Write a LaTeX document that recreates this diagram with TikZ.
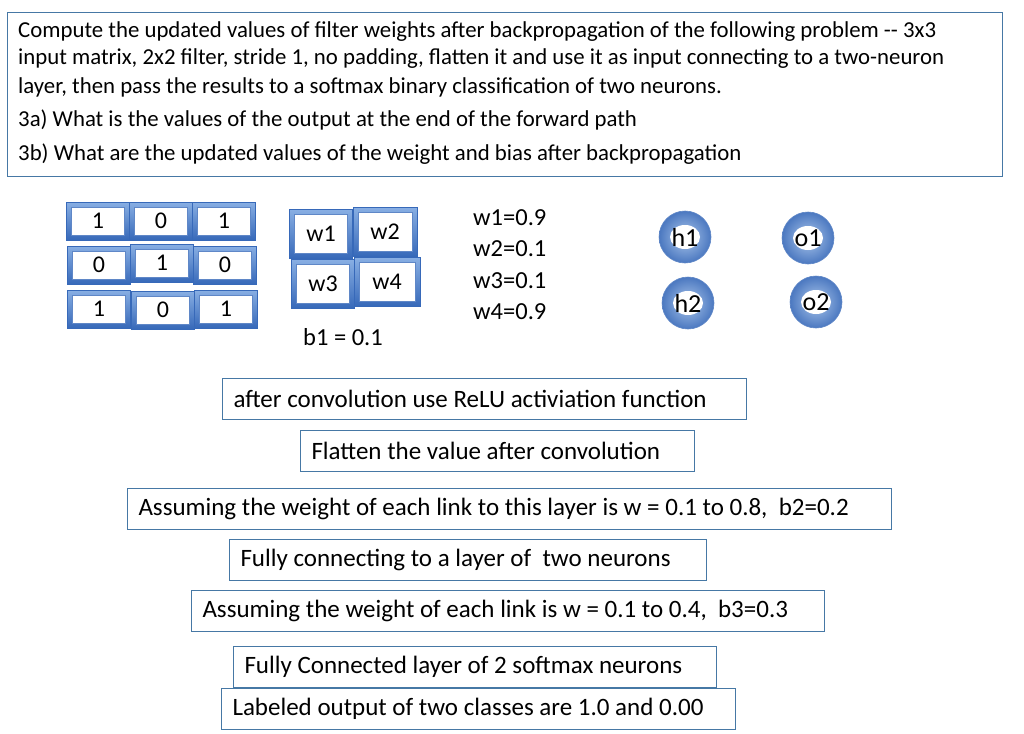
\documentclass[tikz,border=0pt]{standalone}
\usepackage{fontspec}
\setmainfont{Carlito}
\definecolor{bx}{RGB}{70,120,165}
\definecolor{cb}{RGB}{85,140,215}
\definecolor{cd}{RGB}{55,105,185}
\newcommand{\bxt}[2]{\makebox[#1][l]{#2}}
\begin{document}
\begin{tikzpicture}[x=1pt,y=-1pt,
  tb/.style={draw=bx,line width=1pt,minimum height=41pt,font=\fontsize{25}{26}\selectfont,anchor=west,inner xsep=11pt,inner ysep=0pt},
  cell/.style={draw=cd,line width=1pt,top color=cb!70,bottom color=cd,minimum width=63pt,minimum height=38pt,inner sep=0pt,
     path picture={\fill[white,draw=cd!80] ([shift={(5pt,5pt)}]path picture bounding box.south west) rectangle ([shift={(-5pt,-5pt)}]path picture bounding box.north east);},
     font=\fontsize{24}{24}\selectfont},
  neu/.style={circle,draw=cd!80,line width=0.6pt,inner color=cb!50,outer color=cd!90,minimum size=52pt,inner sep=0pt,
     path picture={\fill[white] (path picture bounding box.center) ellipse (15pt and 12pt);},
     font=\fontsize{26}{26}\selectfont},
  lbl/.style={font=\fontsize{24.5}{25}\selectfont,anchor=west,inner sep=0pt},
  qtx/.style={font=\fontsize{22.8}{23}\selectfont,anchor=west,inner sep=0pt}]
\useasboundingbox (0,0) rectangle (1024,733);
\fill[white] (0,0) rectangle (1024,733);
\node[draw=bx,line width=1pt,minimum width=995pt,minimum height=164pt,anchor=north west] (q) at (7,12) {};
\foreach \t/\y [count=\i] in {{Compute the updated values of filter weights after backpropagation of the following problem -{}- 3x3}/32,
 {input matrix, 2x2 filter, stride 1, no padding, flatten it and use it as input connecting to a two-neuron}/59,
 {layer, then pass the results to a softmax binary classification of two neurons.}/87,
 {3a) What is the values of the output at the end of the forward path}/120,
 {3b) What are the updated values of the weight and bias after backpropagation}/154}
 \node[qtx] (qt\i) at (18,\y) {\t};
% matrix
\node[cell] (m11) at (98,221) {1};
\node[cell] (m12) at (161,221) {0};
\node[cell] (m13) at (224,221) {1};
\node[cell] (m21) at (99,265) {0};
\node[cell] (m22) at (162,263) {1};
\node[cell] (m23) at (225,265) {0};
\node[cell] (m31) at (99,309) {1};
\node[cell] (m32) at (163,310) {0};
\node[cell] (m33) at (226,309) {1};
% filter
\node[cell,minimum width=63pt,minimum height=49pt] (f1) at (321,234) {w1};
\node[cell,minimum width=64pt,minimum height=49pt] (f2) at (385,232) {w2};
\node[cell,minimum width=63pt,minimum height=49pt] (f3) at (323,284) {w3};
\node[cell,minimum width=66pt,minimum height=49pt] (f4) at (387,282) {w4};
\node[lbl] (b1) at (303,337) {b1 = 0.1};
\node[lbl] (v1) at (473,218) {w1=0.9};
\node[lbl] (v2) at (473,249) {w2=0.1};
\node[lbl] (v3) at (473,281) {w3=0.1};
\node[lbl] (v4) at (473,312) {w4=0.9};
\node[neu] (h1) at (685,237) {h1};
\node[neu] (o1) at (808,238) {o1};
\node[neu] (h2) at (688,303) {h2};
\node[neu] (o2) at (816,302) {o2};
% text boxes
\node[tb] (t1) at (222,399) {\bxt{502pt}{after convolution use ReLU activiation function}};
\node[tb] (t2) at (300,451) {\bxt{372pt}{Flatten the value after convolution}};
\node[tb] (t3) at (127,509) {\bxt{742pt}{Assuming the weight of each link to this layer is w = 0.1 to 0.8,\ \ b2=0.2}};
\node[tb] (t4) at (229,560) {\bxt{455pt}{Fully connecting to a layer of\ \ two neurons}};
\node[tb] (t5) at (191,611) {\bxt{611pt}{Assuming the weight of each link is w = 0.1 to 0.4,\ \ b3=0.3}};
\node[tb] (t6) at (233,667) {\bxt{461pt}{Fully Connected layer of 2 softmax neurons}};
\node[tb] (t7) at (221,709) {\bxt{492pt}{Labeled output of two classes are 1.0 and 0.00}};
\end{tikzpicture}
\end{document}
